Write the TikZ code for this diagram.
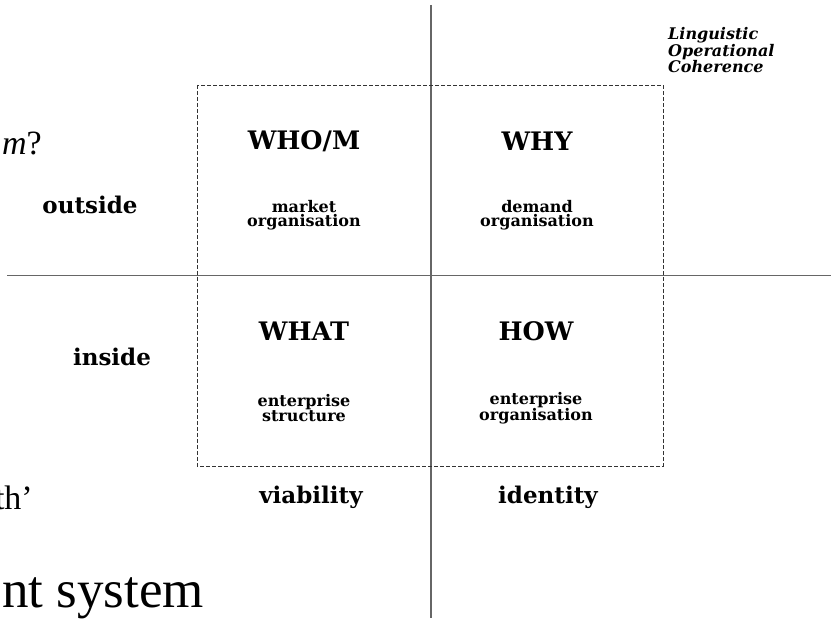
\documentclass[tikz,border=0pt]{standalone}
\usepackage{fontspec}
\usetikzlibrary{positioning}
\newfontfamily\slabfont{DejaVu Serif}
\newfontfamily\timesfont{Liberation Serif}

\tikzstyle{axis} = [draw=black!60, line width=1.6pt]
\tikzstyle{frame} = [draw=black!80, line width=0.7pt, dash pattern=on 4pt off 2pt]
\tikzstyle{quad} = [font=\slabfont\bfseries\fontsize{25.5}{27}\selectfont, inner sep=0pt]
\tikzstyle{sub} = [font=\slabfont\bfseries\fontsize{16}{14.5}\selectfont, align=center, inner sep=0pt]
\tikzstyle{side} = [font=\slabfont\bfseries\fontsize{23}{24}\selectfont, inner sep=0pt]
\tikzstyle{cut} = [font=\timesfont\fontsize{34}{40}\selectfont, inner sep=0pt, anchor=base east]

\begin{document}
\begin{tikzpicture}[x=1pt, y=-1pt]
\useasboundingbox (0,0) rectangle (831,620);
\coordinate (top) at (431,5);
\coordinate (bottom) at (431,618);
\coordinate (left) at (7,275.5);
\coordinate (right) at (831,275.5);
\coordinate (frame-nw) at (197,85);
\coordinate (frame-se) at (663,466);

\draw [axis] (top) -- (bottom);
\draw [axis] (left) -- (right);
\draw [frame] (frame-nw) rectangle (frame-se);

\node (whom) [quad] at (304,141) {WHO/M};
\node (whom-sub) [sub] at (304,215) {market\\organisation};
\node (why) [quad] at (537,141) {WHY};
\node (why-sub) [sub] at (537,215) {demand\\organisation};
\node (what) [quad] at (304,331) {WHAT};
\node (what-sub) [sub] at (304,408) {enterprise\\structure};
\node (how) [quad] at (536,331) {HOW};
\node (how-sub) [sub] at (536,408) {enterprise\\organisation};

\node (outside) [side] at (90,205) {outside};
\node (inside) [side] at (112,357) {inside};
\node (viability) [side] at (311,497) {viability};
\node (identity) [side] at (548,497) {identity};

\node (loc) [font=\slabfont\bfseries\itshape\fontsize{16}{13}\selectfont, align=left, inner sep=0pt, anchor=north west] at (668,27) {Linguistic\\Operational\\Coherence};

\node (q-mark) [cut] at (42,155) {\textit{m}?};
\node (quote) [cut] at (33,510) {th’};
\node (system) [cut, font=\timesfont\fontsize{53}{56}\selectfont] at (204,607) {nt system};
\end{tikzpicture}
\end{document}
